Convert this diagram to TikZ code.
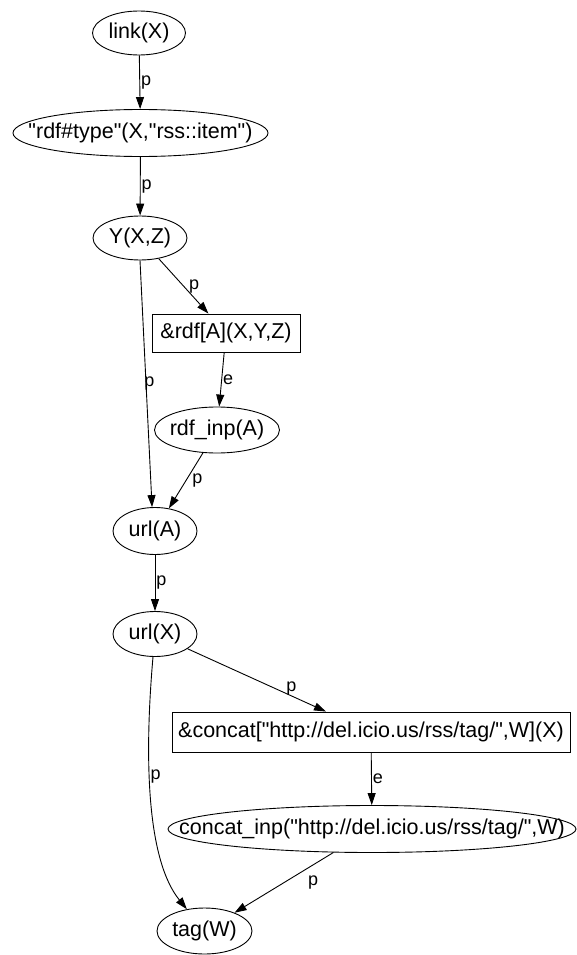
\documentclass[tikz,border=0pt]{standalone}
\usepackage{fontspec}
\setmainfont{Liberation Sans}[Ligatures=TeXOff]
\usepackage{tikz}
\usetikzlibrary{
  arrows.meta,
  shapes,
  shapes.geometric,
  positioning
}
\newcommand{\ctext}[1]{\makebox[0pt]{#1}}
\tikzset{
  atom/.style={
    draw, ellipse, inner sep=0pt, line width=0.9pt,
    font=\fontsize{21.5}{25}\selectfont
  },
  builtin/.style={
    draw, rectangle, inner sep=0pt, line width=0.9pt, minimum height=38pt,
    font=\fontsize{21.5}{25}\selectfont
  },
  dep/.style={-{Triangle[length=12pt,width=8pt]}, line width=0.9pt},
  elbl/.style={font=\fontsize{18}{20}\selectfont, inner sep=1pt}
}

\begin{document}
\begin{tikzpicture}[x=1pt, y=-1pt]
  \useasboundingbox (0,0) rectangle (577,955);
  \node[atom, minimum width=93pt, minimum height=44pt] (link) at (139,33) {\ctext{link(X)}};
  \node[atom, minimum width=255pt, minimum height=47pt] (rdftype) at (140.5,133) {\ctext{"rdf\#type"(X,"rss::item")}};
  \node[atom, minimum width=94pt, minimum height=44pt] (yxz) at (140,238) {\ctext{Y(X,Z)}};
  \node[builtin, minimum width=148pt] (rdfop) at (226,333) {\&rdf[A](X,Y,Z)};
  \node[atom, minimum width=125pt, minimum height=46pt] (rdfinp) at (217,430) {\ctext{rdf\_inp(A)}};
  \node[atom, minimum width=84pt, minimum height=47pt] (urla) at (155,531) {\ctext{url(A)}};
  \node[atom, minimum width=84pt, minimum height=45pt] (urlx) at (155,634) {\ctext{url(X)}};
  \node[builtin, minimum width=398pt, minimum height=40pt] (concatop) at (371,732) {\&concat["http://del.icio.us/rss/tag/",W](X)};
  \node[atom, minimum width=408pt, minimum height=47pt] (concatinp) at (372,829) {\ctext{concat\_inp("http://del.icio.us/rss/tag/",W)}};
  \node[atom, minimum width=95pt, minimum height=46pt] (tagw) at (204.5,931) {\ctext{tag(W)}};

  \draw[dep] (link) -- node[elbl, right] {p} (rdftype);
  \draw[dep] (rdftype) -- node[elbl, right] {p} (yxz);
  \draw[dep] (yxz) -- node[elbl, right, xshift=4pt] {p} (rdfop);
  \draw[dep] (yxz.south) -- node[elbl, anchor=west, inner sep=0pt, xshift=-2pt] {p} (urla.97);
  \draw[dep] (rdfop) -- node[elbl, right] {e} (rdfinp);
  \draw[dep] (rdfinp) -- node[elbl, right, xshift=5pt] {p} (urla);
  \draw[dep] (urla) -- node[elbl, right] {p} (urlx);
  \draw[dep] (urlx) -- node[elbl, pos=0.75, above, inner sep=0pt] {p} (concatop);
  \draw[dep] (concatop) -- node[elbl, right] {e} (concatinp);
  \draw[dep] (concatinp) -- node[elbl, pos=0.3, anchor=north west, xshift=3pt, yshift=-4pt] {p} (tagw);
  \draw[dep] (urlx.265) .. controls (144,760) and (147,860) .. (tagw.129) node[elbl, pos=0.4, right, inner sep=0.5pt] {p};
\end{tikzpicture}
\end{document}
